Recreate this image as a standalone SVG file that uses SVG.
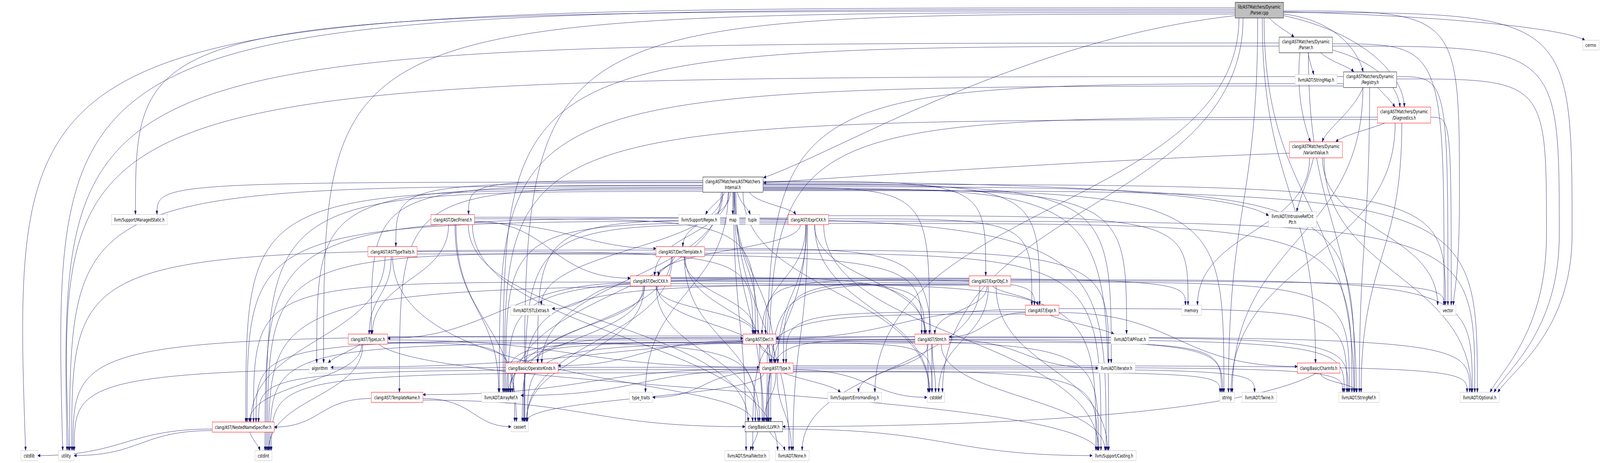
<svg xmlns="http://www.w3.org/2000/svg" width="6249" height="1185" viewBox="0 0 6249 1185" preserveAspectRatio="none" style="width:100%;height:100%;display:block">
<style>
.n rect{fill:#fff;stroke:#000;stroke-width:1}
.n.r rect{stroke:#ff0000}
.n.g rect{stroke:#bfbfbf}
.n.root rect{fill:#bfbfbf;stroke:#000}
.n text{font-family:"DejaVu Sans","Liberation Sans",sans-serif;font-size:13px;text-anchor:middle;fill:#000}
#edges path{fill:none;stroke:#191970;stroke-width:1;marker-end:url(#arr)}
</style>
<defs>
<marker id="arr" markerWidth="10" markerHeight="8" refX="10" refY="4" orient="auto" markerUnits="userSpaceOnUse">
<path d="M0,0 L10,4 L0,8 z" fill="#191970" stroke="#191970" stroke-width="1"/>
</marker>
</defs>
<rect x="0" y="0" width="6249" height="1185" fill="#fff"/>
<g id="edges">
<!-- Parser.cpp -->
<path d="M 4957,46 C 4990,70 5030,80 5054,95"/>
<path d="M 5013,30 C 5600,40 6100,70 6190,103"/>
<path d="M 5013,36 C 5200,50 5300,120 5324,184"/>
<path d="M 5013,40 C 5300,80 5480,180 5485,274"/>
<path d="M 4824,40 C 4000,100 3300,380 2982,455"/>
<path d="M 4930,46 C 4930,487 5138,487 5138,929"/>
<path d="M 5013,32 C 6140,32 6140,32 6140,600 C 6140,850 5900,950 5850,1004"/>
<path d="M 4937,46 C 4937,525 5288,525 5288,1004"/>
<path d="M 4839,46 C 4839,525 3417,525 3417,1004"/>
<path d="M 4824,28 C 529,28 529,28 529,549"/>
<path d="M 4824,32 C 1264,32 1264,32 1264,929"/>
<path d="M 4824,36 C 2048,36 2048,36 2048,1079"/>
<path d="M 4855,46 C 4855,525 3681,525 3681,1004"/>
<path d="M 4824,20 C 40,20 40,20 100,1153"/>
<path d="M 4912,46 C 4912,525 4798,525 4798,1004"/>
<path d="M 4824,24 C 200,24 200,24 245,1153"/>
<path d="M 5013,28 C 5700,28 5700,28 5700,500 C 5700,700 5680,740 5676,781"/>
<!-- Parser.h -->
<path d="M 5204,128 C 5380,160 5460,220 5468,274"/>
<path d="M 5158,135 C 5200,160 5270,170 5287,184"/>
<path d="M 5077,135 C 5060,250 5100,330 5118,363"/>
<path d="M 4996,118 C 1965,118 1965,118 1965,1004"/>
<path d="M 5204,118 C 6090,118 6090,118 6090,600 C 6090,850 5880,950 5835,1004"/>
<path d="M 5109,135 C 5115,160 5125,175 5131,191"/>
<path d="M 5110,135 C 5110,570 5297,570 5297,1004"/>
<path d="M 4996,110 C 230,110 230,110 262,1153"/>
<path d="M 5204,112 C 5640,112 5640,112 5640,781"/>
<!-- Registry.h -->
<path d="M 5381,224 C 5410,245 5435,260 5448,274"/>
<path d="M 5324,224 C 5280,290 5180,330 5164,363"/>
<path d="M 5247,214 C 2996,214 2996,214 2996,1079"/>
<path d="M 5247,220 C 1950,220 1950,220 1950,1004"/>
<path d="M 5455,202 C 6040,202 6040,202 6040,600 C 6040,850 5860,950 5820,1004"/>
<path d="M 5349,224 C 5349,614 5309,614 5309,1004"/>
<path d="M 5323,224 C 5323,614 4813,614 4813,1004"/>
<path d="M 5247,196 C 220,196 220,196 268,1153"/>
<path d="M 5455,196 C 5655,196 5655,196 5655,781"/>
<!-- Diagnostics.h -->
<path d="M 5409,315 C 5330,335 5250,345 5217,363"/>
<path d="M 5380,300 C 3003,300 3003,300 3003,1079"/>
<path d="M 5380,306 C 1970,306 1970,306 1970,1004"/>
<path d="M 5475,315 C 5475,660 5316,660 5316,1004"/>
<path d="M 5449,315 C 5449,660 4808,660 4808,1004"/>
<path d="M 5588,300 C 5668,300 5668,300 5668,781"/>
<!-- VariantValue.h -->
<path d="M 5036,392 C 4300,410 3600,440 2982,468"/>
<path d="M 5130,404 C 5110,460 5075,510 5064,542"/>
<path d="M 5171,404 C 5171,704 5747,704 5747,1004"/>
<path d="M 5115,404 C 5115,592 4677,592 4677,781"/>
<path d="M 5165,404 C 5165,592 5615,592 5615,781"/>
<!-- ASTMatchersInternal.h -->
<path d="M 2745,468 C 1546,468 1546,468 1546,631"/>
<path d="M 2867,492 C 2867,674 2961,674 2961,855"/>
<path d="M 2846,492 C 2846,599 2557,599 2557,706"/>
<path d="M 2745,462 C 1830,462 1830,462 1830,549"/>
<path d="M 2852,492 C 2852,562 2667,562 2667,631"/>
<path d="M 2980,470 C 4060,470 4060,470 4060,781"/>
<path d="M 2927,492 C 2950,520 3090,530 3108,549"/>
<path d="M 2980,464 C 3850,464 3850,464 3850,706"/>
<path d="M 2745,486 C 960,486 960,486 960,1080"/>
<path d="M 2980,480 C 3630,480 3630,480 3630,855"/>
<path d="M 2745,482 C 1560,482 1560,482 1560,1004"/>
<path d="M 2870,492 C 2870,711 3024,711 3024,929"/>
<path d="M 2745,474 C 1450,474 1450,474 1450,855"/>
<path d="M 2868,492 C 2868,786 2977,786 2977,1079"/>
<path d="M 2823,492 C 2823,711 2116,711 2116,929"/>
<path d="M 2980,484 C 4400,484 4400,484 4400,855"/>
<path d="M 2817,492 C 2817,748 2002,748 2002,1004"/>
<path d="M 2980,466 C 4700,466 4900,530 4955,552"/>
<path d="M 2874,492 C 2874,823 3082,823 3082,1153"/>
<path d="M 2980,488 C 5770,488 5770,488 5770,1004"/>
<path d="M 2823,492 C 2823,637 2114,637 2114,781"/>
<path d="M 2865,492 C 2865,823 2914,823 2914,1153"/>
<path d="M 2980,478 C 5290,478 5290,478 5290,1004"/>
<path d="M 2980,474 C 4340,474 4340,474 4340,929"/>
<path d="M 2980,482 C 4330,482 4330,482 4330,1153"/>
<path d="M 2745,466 C 613,466 613,466 613,549"/>
<path d="M 2833,492 C 2810,515 2770,530 2756,549"/>
<path d="M 2745,480 C 1237,480 1237,480 1237,929"/>
<path d="M 2902,492 C 2902,748 3629,748 3629,1004"/>
<path d="M 2745,490 C 1040,490 1040,490 1040,1153"/>
<path d="M 2862,492 C 2862,520 2862,520 2862,549"/>
<path d="M 2980,486 C 4780,486 4780,486 4780,1004"/>
<path d="M 2880,492 C 2890,520 2920,530 2930,549"/>
<path d="M 2844,492 C 2844,748 2521,748 2521,1004"/>
<path d="M 2745,476 C 272,476 272,476 272,1153"/>
<path d="M 2980,472 C 5645,472 5645,472 5645,781"/>
<!-- DeclFriend.h -->
<path d="M 1853,560 C 2950,560 2950,560 2950,855"/>
<path d="M 1853,566 C 2150,566 2150,712 2462,712"/>
<path d="M 1853,570 C 2200,570 2300,636 2562,636"/>
<path d="M 1752,575 C 1752,715 1454,715 1454,855"/>
<path d="M 1829,575 C 1829,827 2922,827 2922,1079"/>
<path d="M 1777,575 C 1777,790 1948,790 1948,1004"/>
<path d="M 1845,575 C 1845,864 3037,864 3037,1153"/>
<path d="M 1853,556 C 4320,556 4320,556 4320,1153"/>
<path d="M 1781,575 C 1781,827 2017,827 2017,1079"/>
<!-- ExprCXX.h -->
<path d="M 3147,575 C 3147,715 2976,715 2976,855"/>
<path d="M 3126,575 C 3126,640 2572,640 2572,706"/>
<path d="M 3236,560 C 4030,560 4030,560 4030,781"/>
<path d="M 3078,566 C 965,566 965,566 965,1080"/>
<path d="M 3181,575 C 3181,715 3616,715 3616,855"/>
<path d="M 3151,575 C 3151,752 3038,752 3038,929"/>
<path d="M 3148,575 C 3148,827 2992,827 2992,1079"/>
<path d="M 3078,562 C 2100,562 2100,562 2100,929"/>
<path d="M 3078,570 C 1975,570 1975,570 1975,1004"/>
<path d="M 3154,575 C 3154,864 3097,864 3097,1153"/>
<path d="M 3236,566 C 5760,566 5760,566 5760,1004"/>
<path d="M 3236,572 C 5280,572 5280,572 5280,1004"/>
<path d="M 3217,575 C 3217,864 4291,864 4291,1153"/>
<path d="M 3078,574 C 2050,574 2050,574 2050,1079"/>
<path d="M 3182,575 C 3182,790 3631,790 3631,1004"/>
<path d="M 3078,558 C 1035,558 1035,558 1035,1153"/>
<path d="M 3236,552 C 4640,552 4640,552 4640,781"/>
<!-- ASTTypeTraits.h -->
<path d="M 1629,644 C 2940,644 2940,644 2940,855"/>
<path d="M 1504,657 C 1504,869 979,869 979,1080"/>
<path d="M 1629,650 C 3600,650 3600,650 3600,855"/>
<path d="M 1528,657 C 1528,756 1442,756 1442,855"/>
<path d="M 1533,657 C 1533,1000 2930,960 2940,1079"/>
<!-- DeclTemplate.h -->
<path d="M 2672,657 C 2672,756 2951,756 2951,855"/>
<path d="M 2636,657 C 2620,680 2580,690 2569,706"/>
<path d="M 2676,657 C 2676,793 3013,793 3013,929"/>
<path d="M 2673,657 C 2673,868 2967,868 2967,1079"/>
<path d="M 2622,657 C 2622,830 1992,830 1992,1004"/>
<path d="M 2752,640 C 4330,640 4330,640 4330,929"/>
<path d="M 2752,648 C 4300,648 4300,648 4300,1153"/>
<path d="M 2626,657 C 2626,868 2056,868 2056,1079"/>
<path d="M 2752,636 C 3640,636 3640,636 3640,1004"/>
<path d="M 2562,648 C 1045,648 1045,648 1045,1153"/>
<path d="M 2562,640 C 280,640 280,640 280,1153"/>
<!-- DeclCXX.h -->
<path d="M 2562,732 C 2562,794 2945,794 2945,855"/>
<path d="M 2620,714 C 4040,714 4040,714 4040,781"/>
<path d="M 2462,722 C 990,722 990,722 990,1080"/>
<path d="M 2620,720 C 3610,720 3610,720 3610,855"/>
<path d="M 2566,732 C 2566,831 3008,831 3008,929"/>
<path d="M 2462,724 C 2000,724 1900,866 1514,866"/>
<path d="M 2563,732 C 2563,906 2961,906 2961,1079"/>
<path d="M 2518,732 C 2518,831 2100,831 2100,929"/>
<path d="M 2512,732 C 2512,868 1986,868 1986,1004"/>
<path d="M 2462,728 C 2300,728 2300,790 2156,790"/>
<path d="M 2620,726 C 4280,726 4280,726 4280,1153"/>
<path d="M 2516,732 C 2516,906 2056,906 2056,1079"/>
<path d="M 2620,710 C 3625,710 3625,710 3625,1004"/>
<path d="M 2620,712 C 4630,712 4630,712 4630,781"/>
<path d="M 2620,718 C 5640,718 5640,718 5640,781"/>
<!-- ExprObjC.h -->
<path d="M 3785,716 C 2990,716 2990,716 2990,855"/>
<path d="M 3876,732 C 3900,750 4040,760 4055,781"/>
<path d="M 3855,732 C 3855,794 3651,794 3651,855"/>
<path d="M 3785,722 C 3060,722 3060,722 3060,929"/>
<path d="M 3785,726 C 3010,726 3010,726 3010,1079"/>
<path d="M 3785,712 C 1985,712 1985,712 1985,1004"/>
<path d="M 3827,732 C 3827,943 3133,943 3133,1153"/>
<path d="M 3948,716 C 5750,716 5750,716 5750,1004"/>
<path d="M 3948,722 C 5270,722 5270,722 5270,1004"/>
<path d="M 3890,732 C 3890,943 4326,943 4326,1153"/>
<path d="M 3785,728 C 2045,728 2045,728 2045,1079"/>
<path d="M 3860,732 C 3860,868 3666,868 3666,1004"/>
<path d="M 3785,730 C 1050,730 1050,730 1050,1153"/>
<!-- Expr.h -->
<path d="M 4005,792 C 3500,792 3500,866 3031,866"/>
<path d="M 4005,800 C 3850,800 3850,862 3707,862"/>
<path d="M 4005,798 C 3070,798 3070,798 3070,929"/>
<path d="M 4136,800 C 4600,800 4600,938 5067,938"/>
<path d="M 4100,807 C 4200,830 4300,840 4351,855"/>
<path d="M 4005,804 C 2940,804 2940,804 2940,1153"/>
<path d="M 4136,790 C 5260,790 5260,790 5260,1004"/>
<!-- TypeLoc.h -->
<path d="M 1514,862 C 2200,862 2200,866 2902,866"/>
<path d="M 1413,881 C 1413,980 974,980 974,1080"/>
<path d="M 1514,870 C 2240,870 2240,940 2966,940"/>
<path d="M 1514,876 C 2950,876 2950,876 2950,1079"/>
<path d="M 1479,881 C 1700,1000 4200,1000 4290,1153"/>
<path d="M 1407,881 C 1350,905 1300,915 1282,929"/>
<path d="M 1514,878 C 2010,878 2010,878 2010,1079"/>
<path d="M 1417,881 C 1417,1017 1049,1017 1049,1153"/>
<!-- Decl.h -->
<path d="M 2902,870 C 1000,870 1000,870 1000,1080"/>
<path d="M 2969,881 C 2969,905 3029,905 3029,929"/>
<path d="M 2967,881 C 2967,980 2982,980 2982,1079"/>
<path d="M 2902,872 C 2500,872 2500,936 2180,936"/>
<path d="M 2902,876 C 1980,876 1980,876 1980,1004"/>
<path d="M 3031,862 C 5740,862 5740,862 5740,1004"/>
<path d="M 3031,868 C 5250,868 5250,868 5250,1004"/>
<path d="M 3031,874 C 4290,874 4290,874 4290,1153"/>
<path d="M 2902,864 C 2040,864 2040,864 2040,1079"/>
<path d="M 3031,878 C 3640,878 3640,878 3640,1004"/>
<path d="M 2902,878 C 1055,878 1055,878 1055,1153"/>
<path d="M 3031,870 C 4775,870 4775,870 4775,1004"/>
<path d="M 2902,860 C 285,860 285,860 285,1153"/>
<!-- Stmt.h -->
<path d="M 3573,870 C 3000,870 3000,870 3000,1079"/>
<path d="M 3573,874 C 1995,874 1995,874 1995,1004"/>
<path d="M 3707,864 C 5265,864 5265,864 5265,1004"/>
<path d="M 3707,870 C 4000,870 4000,942 4289,942"/>
<path d="M 3676,881 C 3676,1017 4316,1017 4316,1153"/>
<path d="M 3625,881 C 3625,943 3353,943 3353,1004"/>
<path d="M 3573,862 C 2400,862 2400,940 1292,940"/>
<path d="M 3573,878 C 2060,878 2060,878 2060,1079"/>
<path d="M 3641,881 C 3641,943 3654,943 3654,1004"/>
<path d="M 3707,876 C 4770,876 4770,876 4770,1004"/>
<!-- Type.h -->
<path d="M 2966,946 C 1010,946 1010,946 1010,1080"/>
<path d="M 2966,944 C 2300,944 2300,1010 1652,1010"/>
<path d="M 3030,955 C 3030,1017 2985,1017 2985,1079"/>
<path d="M 2966,948 C 2500,948 2500,1012 2034,1012"/>
<path d="M 3035,955 C 3035,1054 3091,1054 3091,1153"/>
<path d="M 3098,936 C 5730,936 5730,936 5730,1004"/>
<path d="M 3098,940 C 5245,940 5245,940 5245,1004"/>
<path d="M 3098,944 C 4900,944 4900,944 4900,1004"/>
<path d="M 3098,950 C 4285,950 4285,950 4285,1153"/>
<path d="M 3060,955 C 3150,975 3250,985 3283,1004"/>
<path d="M 2982,955 C 2982,1017 2056,1017 2056,1079"/>
<path d="M 3098,946 C 3400,946 3400,1017 3621,1017"/>
<path d="M 2966,954 C 1060,954 1060,954 1060,1153"/>
<path d="M 3098,952 C 4765,952 4765,952 4765,1004"/>
<path d="M 2966,952 C 2750,952 2750,1017 2549,1017"/>
<path d="M 2966,940 C 290,940 290,940 290,1153"/>
<!-- CharInfo.h -->
<path d="M 5141,955 C 4800,1080 3500,1092 3057,1092"/>
<path d="M 5158,955 C 5158,980 5299,980 5299,1004"/>
<!-- TemplateName.h -->
<path d="M 1450,1020 C 1250,1020 1250,1093 1071,1093"/>
<path d="M 1652,1024 C 2300,1024 2300,1092 2910,1092"/>
<path d="M 1652,1020 C 1850,1020 1850,1092 1996,1092"/>
<!-- NestedNameSpecifier.h -->
<path d="M 975,1106 C 990,1130 1010,1140 1015,1153"/>
<path d="M 829,1098 C 500,1098 480,1166 147,1166"/>
<path d="M 829,1102 C 550,1102 550,1166 289,1166"/>
<!-- LLVM.h -->
<path d="M 2960,1105 C 2950,1130 2935,1140 2930,1153"/>
<path d="M 3006,1105 C 3030,1130 3060,1140 3066,1153"/>
<path d="M 3057,1098 C 3700,1098 3700,1166 4266,1166"/>
</g>
<g id="node-parser-cpp" class="n root"><rect x="4824" y="6" width="189" height="40"/><text x="4918" y="22">lib/ASTMatchers/Dynamic</text><text x="4918" y="37">/Parser.cpp</text></g>
<g id="node-parser-h" class="n"><rect x="4996" y="95" width="208" height="40"/><text x="5100" y="111">clang/ASTMatchers/Dynamic</text><text x="5100" y="126">/Parser.h</text></g>
<g id="node-cerrno" class="n g"><rect x="6182" y="103" width="63" height="25"/><text x="6213" y="120">cerrno</text></g>
<g id="node-stringmap" class="n g"><rect x="5058" y="191" width="164" height="26"/><text x="5140" y="209">llvm/ADT/StringMap.h</text></g>
<g id="node-registry" class="n"><rect x="5247" y="184" width="208" height="40"/><text x="5351" y="200">clang/ASTMatchers/Dynamic</text><text x="5351" y="215">/Registry.h</text></g>
<g id="node-diagnostics" class="n r"><rect x="5380" y="274" width="208" height="41"/><text x="5484" y="290">clang/ASTMatchers/Dynamic</text><text x="5484" y="306">/Diagnostics.h</text></g>
<g id="node-variantvalue" class="n r"><rect x="5036" y="363" width="207" height="41"/><text x="5139" y="379">clang/ASTMatchers/Dynamic</text><text x="5139" y="395">/VariantValue.h</text></g>
<g id="node-astmatchersinternal" class="n"><rect x="2745" y="453" width="235" height="39"/><text x="2862" y="469">clang/ASTMatchers/ASTMatchers</text><text x="2862" y="484">Internal.h</text></g>
<g id="node-managedstatic" class="n g"><rect x="435" y="549" width="218" height="26"/><text x="544" y="567">llvm/Support/ManagedStatic.h</text></g>
<g id="node-declfriend" class="n r"><rect x="1683" y="549" width="170" height="26"/><text x="1768" y="567">clang/AST/DeclFriend.h</text></g>
<g id="node-regex" class="n g"><rect x="2650" y="549" width="163" height="26"/><text x="2731" y="567">llvm/Support/Regex.h</text></g>
<g id="node-map" class="n g"><rect x="2837" y="549" width="51" height="26"/><text x="2862" y="567">map</text></g>
<g id="node-tuple" class="n g"><rect x="2912" y="549" width="55" height="26"/><text x="2939" y="567">tuple</text></g>
<g id="node-exprcxx" class="n r"><rect x="3078" y="549" width="158" height="26"/><text x="3157" y="567">clang/AST/ExprCXX.h</text></g>
<g id="node-intrusiverefcntptr" class="n g"><rect x="4955" y="542" width="187" height="40"/><text x="5048" y="558">llvm/ADT/IntrusiveRefCnt</text><text x="5048" y="573">Ptr.h</text></g>
<g id="node-asttypetraits" class="n r"><rect x="1437" y="631" width="192" height="26"/><text x="1533" y="649">clang/AST/ASTTypeTraits.h</text></g>
<g id="node-decltemplate" class="n r"><rect x="2562" y="631" width="190" height="26"/><text x="2657" y="649">clang/AST/DeclTemplate.h</text></g>
<g id="node-declcxx" class="n r"><rect x="2462" y="706" width="158" height="26"/><text x="2541" y="724">clang/AST/DeclCXX.h</text></g>
<g id="node-exprobjc" class="n r"><rect x="3785" y="706" width="163" height="26"/><text x="3866" y="724">clang/AST/ExprObjC.h</text></g>
<g id="node-stlextras" class="n g"><rect x="1995" y="781" width="161" height="26"/><text x="2075" y="799">llvm/ADT/STLExtras.h</text></g>
<g id="node-expr" class="n r"><rect x="4005" y="781" width="131" height="26"/><text x="4070" y="799">clang/AST/Expr.h</text></g>
<g id="node-memory" class="n g"><rect x="4615" y="781" width="77" height="26"/><text x="4653" y="799">memory</text></g>
<g id="node-vector" class="n g"><rect x="5624" y="781" width="62" height="26"/><text x="5655" y="799">vector</text></g>
<g id="node-typeloc" class="n r"><rect x="1360" y="855" width="154" height="26"/><text x="1437" y="873">clang/AST/TypeLoc.h</text></g>
<g id="node-decl" class="n r"><rect x="2902" y="855" width="129" height="26"/><text x="2966" y="873">clang/AST/Decl.h</text></g>
<g id="node-stmt" class="n r"><rect x="3573" y="855" width="134" height="26"/><text x="3640" y="873">clang/AST/Stmt.h</text></g>
<g id="node-apfloat" class="n g"><rect x="4339" y="855" width="148" height="26"/><text x="4413" y="873">llvm/ADT/APFloat.h</text></g>
<g id="node-algorithm" class="n g"><rect x="1207" y="929" width="85" height="26"/><text x="1249" y="947">algorithm</text></g>
<g id="node-operatorkinds" class="n r"><rect x="1975" y="929" width="205" height="26"/><text x="2077" y="947">clang/Basic/OperatorKinds.h</text></g>
<g id="node-type" class="n r"><rect x="2966" y="929" width="132" height="26"/><text x="3032" y="947">clang/AST/Type.h</text></g>
<g id="node-iterator" class="n g"><rect x="4289" y="929" width="145" height="26"/><text x="4361" y="947">llvm/ADT/iterator.h</text></g>
<g id="node-charinfo" class="n r"><rect x="5067" y="929" width="166" height="26"/><text x="5150" y="947">clang/Basic/CharInfo.h</text></g>
<g id="node-templatename" class="n r"><rect x="1450" y="1004" width="202" height="26"/><text x="1551" y="1022">clang/AST/TemplateName.h</text></g>
<g id="node-arrayref" class="n g"><rect x="1880" y="1004" width="154" height="26"/><text x="1957" y="1022">llvm/ADT/ArrayRef.h</text></g>
<g id="node-type-traits" class="n g"><rect x="2458" y="1004" width="91" height="26"/><text x="2503" y="1022">type_traits</text></g>
<g id="node-errorhandling" class="n g"><rect x="3233" y="1004" width="210" height="26"/><text x="3338" y="1022">llvm/Support/ErrorHandling.h</text></g>
<g id="node-cstddef" class="n g"><rect x="3621" y="1004" width="69" height="26"/><text x="3655" y="1022">cstddef</text></g>
<g id="node-string" class="n g"><rect x="4763" y="1004" width="59" height="26"/><text x="4792" y="1022">string</text></g>
<g id="node-twine" class="n g"><rect x="4851" y="1004" width="135" height="26"/><text x="4918" y="1022">llvm/ADT/Twine.h</text></g>
<g id="node-stringref" class="n g"><rect x="5229" y="1004" width="157" height="26"/><text x="5307" y="1022">llvm/ADT/StringRef.h</text></g>
<g id="node-optional" class="n g"><rect x="5703" y="1004" width="153" height="26"/><text x="5779" y="1022">llvm/ADT/Optional.h</text></g>
<g id="node-nestednamespecifier" class="n r"><rect x="829" y="1080" width="242" height="26"/><text x="950" y="1098">clang/AST/NestedNameSpecifier.h</text></g>
<g id="node-cassert" class="n g"><rect x="1996" y="1079" width="68" height="26"/><text x="2030" y="1097">cassert</text></g>
<g id="node-llvm" class="n"><rect x="2910" y="1079" width="147" height="26"/><text x="2983" y="1097">clang/Basic/LLVM.h</text></g>
<g id="node-cstdlib" class="n g"><rect x="82" y="1153" width="65" height="26"/><text x="114" y="1171">cstdlib</text></g>
<g id="node-utility" class="n g"><rect x="228" y="1153" width="61" height="26"/><text x="258" y="1171">utility</text></g>
<g id="node-cstdint" class="n g"><rect x="996" y="1153" width="66" height="26"/><text x="1029" y="1171">cstdint</text></g>
<g id="node-smallvector" class="n g"><rect x="2830" y="1153" width="174" height="26"/><text x="2917" y="1171">llvm/ADT/SmallVector.h</text></g>
<g id="node-none" class="n g"><rect x="3029" y="1153" width="131" height="26"/><text x="3094" y="1171">llvm/ADT/None.h</text></g>
<g id="node-casting" class="n g"><rect x="4266" y="1153" width="171" height="26"/><text x="4351" y="1171">llvm/Support/Casting.h</text></g>
</svg>
